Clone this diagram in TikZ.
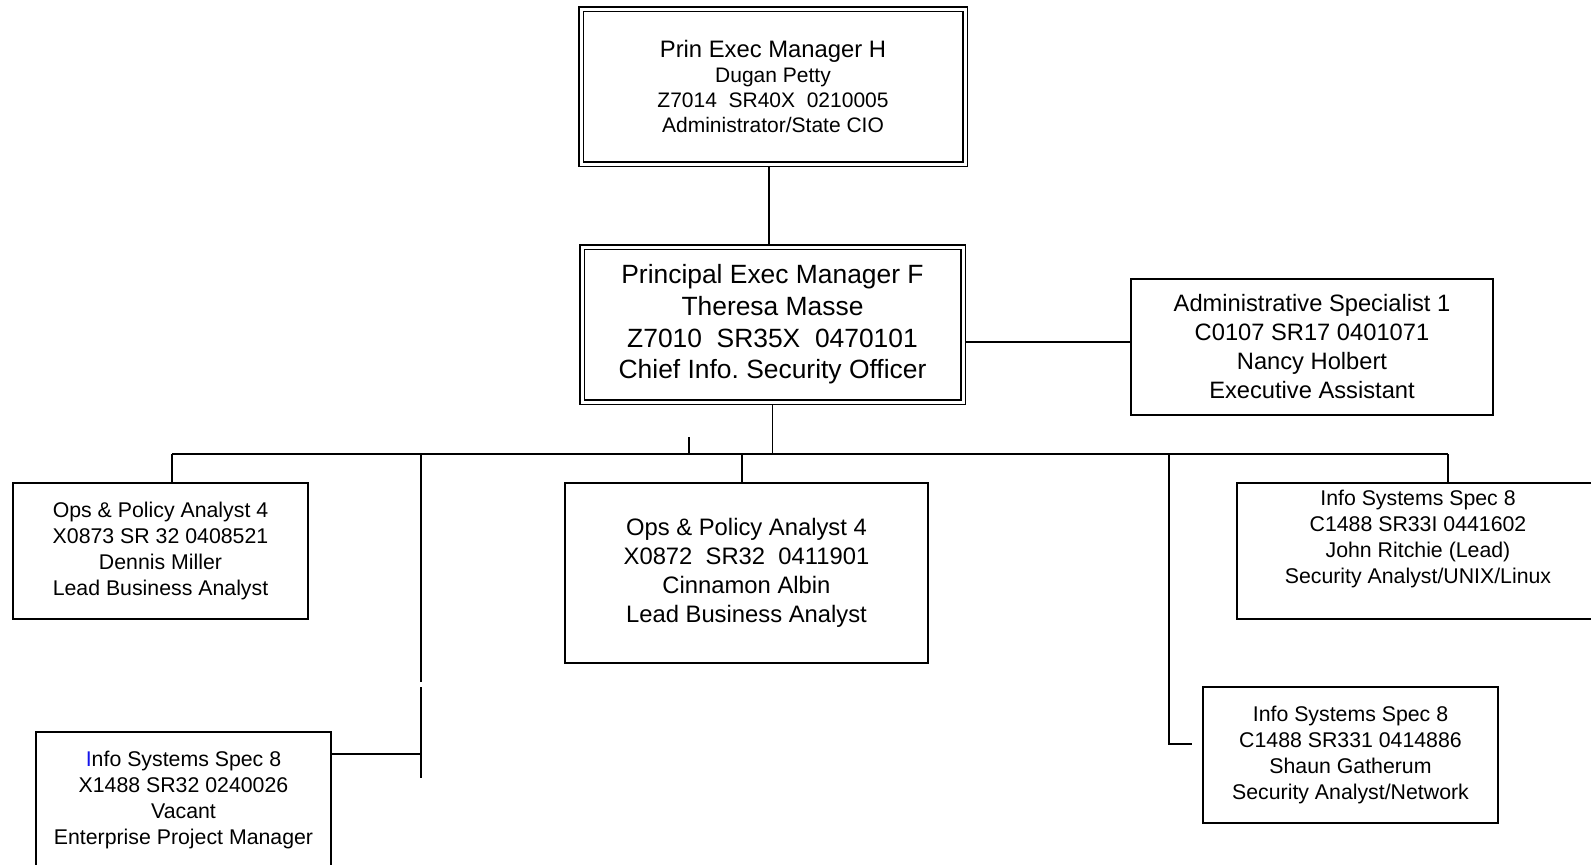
\documentclass[tikz,border=0pt]{standalone}
\usepackage{fontspec}
\setmainfont{Liberation Sans}
\frenchspacing
\definecolor{initblue}{RGB}{20,20,235}
\begin{document}
\begin{tikzpicture}[x=1pt,y=-1pt,
  conn/.style={line width=1.2pt},
  box/.style={draw, line width=1.2pt, inner sep=0pt, align=center, font=\fontsize{21.3}{25.9}\selectfont},
  dbox/.style={box, double, double distance=3pt, outer sep=2.1pt}]
\useasboundingbox (0,0) rectangle (1591,865);
\fill[white] (0,0) rectangle (1591,865);

% boxes
\node[dbox, minimum width=384pt, minimum height=155pt, font=\fontsize{21}{25}\selectfont] (top) at (773,86.5)
  {{\fontsize{23.8}{26}\selectfont Prin Exec Manager H}\\Dugan Petty\\Z7014\ \ SR40X\ \ 0210005\\Administrator/State CIO};
\node[dbox, minimum width=381pt, minimum height=155pt, font=\fontsize{26.4}{31.6}\selectfont] (mid) at (772.5,324.5)
  {Principal Exec Manager F\\Theresa Masse\\Z7010\ \ SR35X\ \ 0470101\\Chief Info.\ Security Officer};
\node[box, minimum width=362pt, minimum height=136pt, font=\fontsize{23.7}{29}\selectfont] (adm) at (1312,347)
  {Administrative Specialist 1\\C0107 SR17 0401071\\Nancy Holbert\\Executive Assistant};
\node[box, minimum width=295pt, minimum height=136pt] (ops1) at (160.5,551)
  {Ops \& Policy Analyst 4\\X0873 SR 32 0408521\\Dennis Miller\\Lead Business Analyst};
\node[box, minimum width=295pt, minimum height=136pt] (vac) at (183.5,800)
  {\textcolor{initblue}{I}nfo Systems Spec 8\\X1488 SR32 0240026\\Vacant\\Enterprise Project Manager};
\node[box, minimum width=363pt, minimum height=180pt, font=\fontsize{23.8}{28.9}\selectfont] (midops) at (746.5,573)
  {Ops \& Policy Analyst 4\\X0872\ \ SR32\ \ 0411901\\Cinnamon Albin\\Lead Business Analyst};
\node[box, minimum width=362pt, minimum height=136pt] (john) at (1418,551)
  {Info Systems Spec 8\\C1488 SR33I 0441602\\John Ritchie (Lead)\\Security Analyst/UNIX/Linux\\[2pt]\mbox{}};
\node[box, minimum width=295pt, minimum height=136pt] (shaun) at (1350.5,755)
  {Info Systems Spec 8\\C1488 SR331 0414886\\Shaun Gatherum\\Security Analyst/Network};

% junction coordinates
\coordinate (busL) at (172,454);
\coordinate (busR) at (1448,454);
\coordinate (j2) at (742,454);
\coordinate (tick) at (689,437);
\coordinate (j3) at (421,454);
\coordinate (j3a) at (421,682);
\coordinate (j3b) at (421,687);
\coordinate (j3c) at (421,778);
\coordinate (j4) at (421,754);
\coordinate (j5) at (1169,454);
\coordinate (j6) at (1169,744);
\coordinate (j7) at (1192,744);

% connectors
\draw[conn] ([xshift=-4pt]top.south) -- ([xshift=-3.5pt]mid.north);
\draw[conn] (mid.south) -- (mid.south |- busL);
\draw[conn] ([yshift=5pt]adm.west -| mid.east) -- ([yshift=5pt]adm.west);
\draw[conn] (busL) -- (busR);
\draw[conn] (tick) -- (tick |- busL);
\draw[conn] (busL) -- (busL |- ops1.north);
\draw[conn] (j2) -- (j2 |- midops.north);
\draw[conn] (busR) -- (busR |- john.north);
\draw[conn] (j3) -- (j3a);
\draw[conn] (j3b) -- (j3c);
\draw[conn] (vac.east |- j4) -- (j4);
\draw[conn] (j5) -- (j6) -- (j7);
\end{tikzpicture}
\end{document}
